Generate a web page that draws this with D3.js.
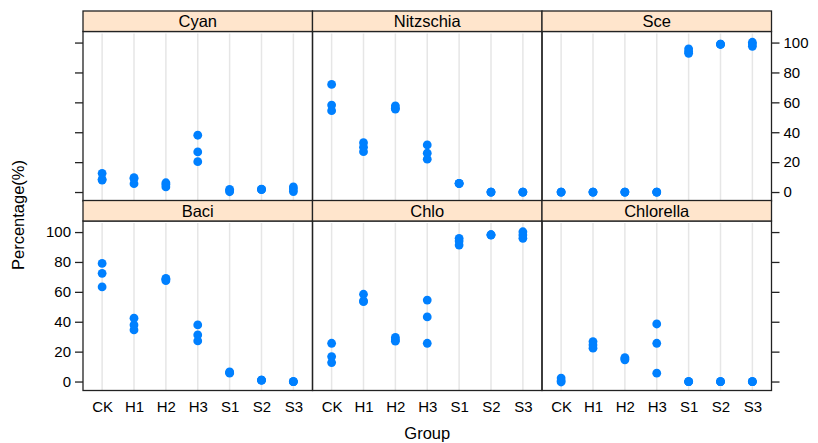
<!DOCTYPE html>
<meta charset="utf-8">
<script src="https://d3js.org/d3.v7.min.js"></script>
<style>
  body { margin: 0; background: #fff; }
  text { font-family: "Liberation Sans", Arial, sans-serif; fill: #000; }
</style>
<svg id="chart" width="818" height="443"></svg>
<script>

// groups on the x axis, panel names in reading order
const groups = ["CK", "H1", "H2", "H3", "S1", "S2", "S3"];
const taxa = ["Cyan", "Nitzschia", "Sce", "Baci", "Chlo", "Chlorella"];
const yTicks = [0, 20, 40, 60, 80, 100];

// three replicates per group
const cyan      = [[12.5, 8, 8.5], [9.6, 5.6, 9], [6.2, 3.4, 5], [38, 26.8, 20.3], [1.8, 0.2, 1], [1.8, 2, 1.6], [3.4, 0.3, 2]];
const nitzschia = [[72, 58.2, 54.4], [33, 30, 27], [57.7, 56, 55.5], [31.5, 26, 22], [5.8, 5.8, 5.6], [0, 0, 0], [0, 0, 0]];
const sce       = [[0, 0, 0], [0, 0, 0], [0, 0, 0], [0, 0, 0], [95.8, 94, 92.8], [98.9, 98.9, 98.7], [100.2, 99, 97.5]];
const baci      = [[79, 72.4, 63.3], [42.4, 37.9, 34.5], [69, 68.4, 67.5], [37.9, 31.2, 27.2], [6.4, 6, 5.6], [0.9, 0.9, 1], [0, 0, 0]];
const chlo      = [[25.6, 16.7, 12.7], [58.4, 53.4, 54], [29.5, 28, 27], [54.5, 43.2, 25.6], [95.8, 94, 91.3], [98.2, 98.2, 98], [100.2, 98, 95.8]];
const chlorella = [[2.3, 0.6, -0.3], [26.7, 24.5, 22.3], [16, 15.2, 14.5], [38.5, 25.6, 5.6], [0, 0, 0], [0, 0, 0], [0, 0, 0]];

const series = [cyan, nitzschia, sce, baci, chlo, chlorella];

const svg = d3.select("#chart");

// panel layout
const colX = [83, 312.5, 542, 771.5];
const rowTop = [11, 200.5];
const stripH = 20.5, panelH = 169.5;

const x = d3.scalePoint().domain(groups).range([0, colX[1] - colX[0]]).padding(0.6);
const y = d3.scaleLinear().domain([-6, 107.4]).range([panelH, 0]);

series.forEach(function (vals, i) {
  const col = i % 3, row = Math.floor(i / 3);
  const w = colX[col + 1] - colX[col];
  const g = svg.append("g").attr("transform", `translate(${colX[col]}, ${rowTop[row] + stripH})`);

  // light vertical reference lines
  g.selectAll("line.grid")
    .data(groups)
    .join("line")
      .attr("x1", d => x(d)).attr("x2", d => x(d))
      .attr("y1", 2).attr("y2", panelH)
      .attr("stroke", "#e6e6e6").attr("stroke-width", 1.5);

  // points
  const pts = [];
  vals.forEach((reps, j) => reps.forEach(v => pts.push({ g: groups[j], v: v })));
  g.selectAll("circle")
    .data(pts)
    .join("circle")
      .attr("cx", d => x(d.g))
      .attr("cy", d => y(d.v))
      .attr("r", 4.4)
      .attr("fill", "#0080ff");

  // panel border
  g.append("rect")
    .attr("width", w).attr("height", panelH)
    .attr("fill", "none").attr("stroke", "#222").attr("stroke-width", 1.3);

  // strip
  const s = svg.append("g").attr("transform", `translate(${colX[col]}, ${rowTop[row]})`);
  s.append("rect")
    .attr("width", w).attr("height", stripH)
    .attr("fill", "#ffe5cc").attr("stroke", "#222").attr("stroke-width", 1.3);
  s.append("text")
    .attr("x", w / 2).attr("y", stripH / 2 + 6)
    .attr("text-anchor", "middle")
    .style("font-size", "16.5px")
    .text(taxa[i]);

  // y axes: left column and right column, labels alternate like lattice
  if (col === 0 || col === 2) {
    const showLabels = (col === 0 && row === 1) || (col === 2 && row === 0);
    const axis = (col === 0 ? d3.axisLeft(y) : d3.axisRight(y))
      .tickValues(yTicks).tickSize(8).tickPadding(4)
      .tickFormat(showLabels ? d3.format("d") : "");
    const ax = g.append("g")
      .attr("transform", col === 0 ? "translate(0,0)" : `translate(${w},0)`)
      .call(axis);
    ax.select(".domain").remove();
    ax.selectAll(".tick line").attr("stroke", "#222").attr("stroke-width", 1.3);
    ax.selectAll(".tick text").style("font-size", "15px").attr("fill", "#000");
  }

  // x labels on bottom row
  if (row === 1) {
    const ax = g.append("g")
      .attr("transform", `translate(0, ${panelH})`)
      .call(d3.axisBottom(x).tickSize(0).tickPadding(11));
    ax.select(".domain").remove();
    ax.selectAll(".tick text").style("font-size", "15px").attr("fill", "#000");
  }
});

// axis titles
svg.append("text")
  .attr("x", (colX[0] + colX[3]) / 2).attr("y", 439)
  .attr("text-anchor", "middle")
  .style("font-size", "16.5px")
  .text("Group");

svg.append("text")
  .attr("transform", "translate(24, 215) rotate(-90)")
  .attr("text-anchor", "middle")
  .style("font-size", "16.5px")
  .text("Percentage(%)");
</script>
